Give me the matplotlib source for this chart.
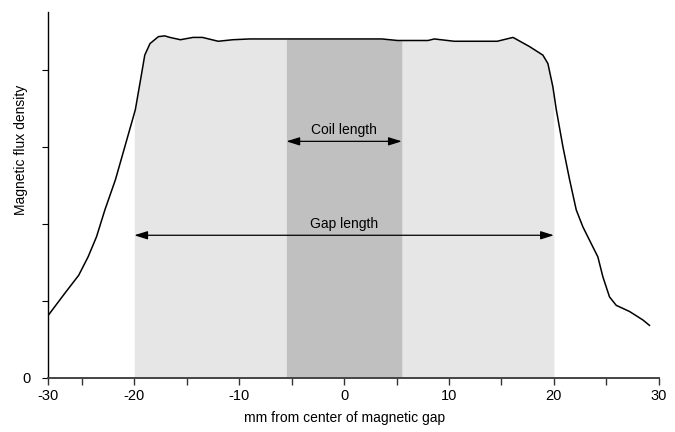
import numpy as np
import matplotlib
matplotlib.use('Agg')
from matplotlib import pyplot as plt

plt.rcParams['font.family'] = ['Liberation Sans', 'DejaVu Sans']

# field profile
pos = [-28.2, -26.6, -25.3, -24.4, -23.6, -22.8, -21.8, -20.9, -19.9, -19.3, -19.0,
       -18.5, -17.7, -17.1, -16.6, -15.6, -14.4, -13.5, -12.0, -10.6, -9.0, -0.9,
       3.6, 5.1, 8.0, 8.6, 10.5, 14.6, 16.1, 16.9, 17.69, 18.95, 19.43, 19.9, 20.23,
       20.86, 21.5, 22.13, 22.76, 23.71, 24.19, 24.67, 25.3, 25.94, 27.21, 28.48, 29.11]
flux = [0.81, 1.10, 1.33, 1.57, 1.83, 2.18, 2.57, 3.00, 3.48, 3.95, 4.19,
        4.34, 4.43, 4.44, 4.42, 4.39, 4.42, 4.42, 4.37, 4.39, 4.40, 4.40,
        4.40, 4.38, 4.38, 4.40, 4.37, 4.37, 4.42, 4.36, 4.30, 4.19, 4.08, 3.78, 3.48,
        3.00, 2.57, 2.18, 1.96, 1.70, 1.57, 1.31, 1.05, 0.94, 0.86, 0.75, 0.68]
gap = (-20, 20)
coil = (-5.5, 5.5)

fig = plt.figure(figsize=(6.75, 4.32), dpi=100)
ax = fig.add_axes([0.0707, 0.1257, 0.9053, 0.8465])

# shaded regions under the curve
xg = np.linspace(gap[0], gap[1], 400)
ax.fill_between(xg, 0, np.interp(xg, pos, flux), color='#e6e6e6', lw=0)
xc = np.linspace(coil[0], coil[1], 200)
ax.fill_between(xc, 0, np.interp(xc, pos, flux), color='#c0c0c0', lw=0)

ax.plot(pos, flux, color='black', lw=1.1)

# arrows
arr = dict(arrowstyle='<|-|>,head_length=0.8,head_width=0.25', color='black', lw=0.9,
           mutation_scale=10, shrinkA=0, shrinkB=0)
ax.annotate('', xy=(coil[0], 3.07), xytext=(coil[1], 3.07), arrowprops=arr)
ax.text(0, 3.13, 'Coil length', ha='center', va='bottom', fontsize=10)
ax.annotate('', xy=(gap[0], 1.85), xytext=(gap[1], 1.85), arrowprops=arr)
ax.text(0, 1.91, 'Gap length', ha='center', va='bottom', fontsize=10)

ax.set_xlim(-28.25, 30)
ax.set_ylim(0, 4.75)
ax.set_xticks([-28.25, -20, -10, 0, 10, 20, 30])
ax.set_xticklabels(['-30', '-20', '-10', '0', '10', '20', '30'], fontsize=10.5)
ax.set_xticks([-25, -15, -5, 5, 15, 25], minor=True)
ax.set_yticks([0, 1, 2, 3, 4])
ax.set_yticklabels(['0', '', '', '', ''], fontsize=10.5)
ax.tick_params(axis='x', which='both', direction='out', length=5, width=1, color='#333333', pad=3)
ax.tick_params(axis='y', direction='out', length=4, width=0.8, pad=8)

for s in ['top', 'right']:
    ax.spines[s].set_visible(False)
ax.spines['bottom'].set_color('#444444')
ax.spines['bottom'].set_linewidth(1.4)
ax.spines['left'].set_linewidth(1.0)

fig.text(0.511, 0.033, 'mm from center of magnetic gap', ha='center', va='center', fontsize=10)
fig.text(0.031, 0.653, 'Magnetic flux density', ha='center', va='center', rotation=90, fontsize=10)

fig.savefig('out.png', dpi=100)
